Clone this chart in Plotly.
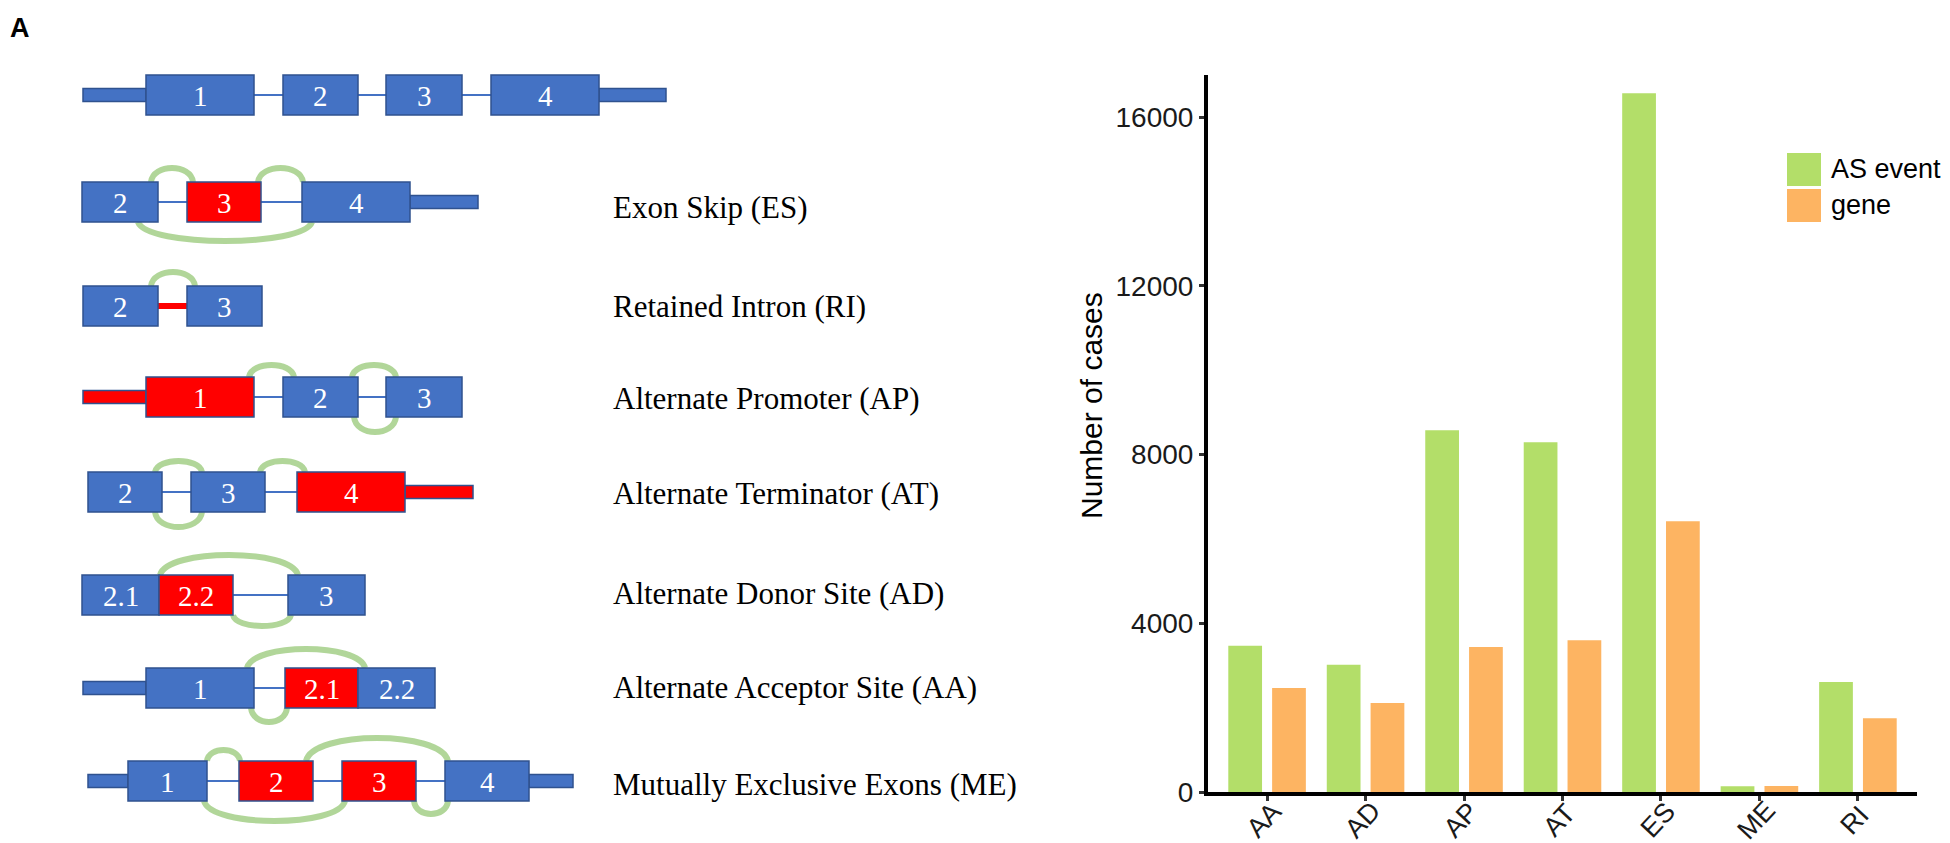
import plotly.graph_objects as go

# ---------------- Panel B data ----------------
categories = ["AA", "AD", "AP", "AT", "ES", "ME", "RI"]
as_event = [3470, 3020, 8580, 8290, 16570, 135, 2610]
gene = [2465, 2110, 3440, 3600, 6420, 140, 1750]
y_tick_values = [0, 4000, 8000, 12000, 16000]
series_names = ["AS event", "gene"]
series_colors = ["#B3DE69", "#FDB462"]
y_title = "Number of cases"

# ---------------- Panel A data (schematic, drawn on a pixel-like axis) ----------------
event_labels = ["Exon Skip (ES)", "Retained Intron (RI)", "Alternate Promoter (AP)",
                "Alternate Terminator (AT)", "Alternate Donor Site (AD)",
                "Alternate Acceptor Site (AA)", "Mutually Exclusive Exons (ME)"]
label_rows_y = [199, 298, 390, 485, 585, 679, 776]
row_y = [87, 194, 298, 389, 484, 587, 680, 773]

BLUE, RED = "#4472C4", "#FF0000"
exon_row = [0, 0, 0, 0, 1, 1, 1, 2, 2, 3, 3, 3, 4, 4, 4, 5, 5, 5, 6, 6, 6, 7, 7, 7, 7]
exon_start = [138, 275, 378, 483, 74, 179, 294, 75, 179, 138, 275, 378, 80, 183, 289, 74, 151, 280, 138, 277, 350, 120, 231, 334, 437]
exon_end = [246, 350, 454, 591, 150, 253, 402, 150, 254, 246, 350, 454, 154, 257, 397, 151, 225, 357, 246, 350, 427, 199, 305, 408, 521]
exon_color = [BLUE, BLUE, BLUE, BLUE, BLUE, RED, BLUE, BLUE, BLUE, RED, BLUE, BLUE, BLUE, BLUE, RED, BLUE, RED, BLUE, BLUE, RED, BLUE, BLUE, RED, RED, BLUE]
exon_text = ["1", "2", "3", "4", "2", "3", "4", "2", "3", "1", "2", "3", "2", "3", "4", "2.1", "2.2", "3", "1", "2.1", "2.2", "1", "2", "3", "4"]

utr_row = [0, 0, 1, 3, 4, 6, 7, 7]
utr_start = [75, 591, 402, 75, 397, 75, 80, 521]
utr_end = [138, 658, 470, 138, 465, 138, 120, 565]
utr_color = [BLUE, BLUE, BLUE, RED, RED, BLUE, BLUE, BLUE]

intron_row = [0, 0, 0, 1, 1, 2, 3, 3, 4, 4, 5, 6, 7, 7, 7]
intron_start = [246, 350, 454, 150, 253, 150, 246, 350, 154, 257, 225, 246, 199, 305, 408]
intron_end = [275, 378, 483, 179, 294, 179, 275, 378, 183, 289, 280, 277, 231, 334, 437]
intron_color = [BLUE, BLUE, BLUE, BLUE, BLUE, RED, BLUE, BLUE, BLUE, BLUE, BLUE, BLUE, BLUE, BLUE, BLUE]

# junction arcs: side +1 = above, -1 = below
arc_row = [1, 1, 1, 2, 3, 3, 3, 4, 4, 4, 5, 5, 6, 6, 7, 7, 7, 7]
arc_start = [143, 250, 130, 143, 241, 344, 346, 147, 252, 147, 152, 225, 239, 243, 199, 298, 196, 406]
arc_end = [185, 295, 304, 187, 286, 388, 388, 194, 297, 194, 290, 283, 357, 279, 232, 440, 337, 440]
arc_side = [1, 1, -1, 1, 1, 1, -1, 1, 1, -1, 1, -1, 1, -1, 1, 1, -1, -1]
arc_height = [14, 14, 19, 14, 12, 12, 15, 11, 11, 15, 20, 11, 19, 14, 11, 23, 20, 13]

EXON_H = 20
UTR_H = 6.5
W, H = 1950, 843
SANS = "Liberation Sans, Arial, sans-serif"
SERIF = "Liberation Serif, Times New Roman, serif"

fig = go.Figure()

for name, vals, col in zip(series_names, [as_event, gene], series_colors):
    fig.add_trace(go.Bar(x=categories, y=vals, name=name, marker=dict(color=col, line=dict(width=0)),
                         showlegend=False, xaxis="x", yaxis="y"))

fig.add_trace(go.Scatter(x=[0, W], y=[0, H], mode="markers", marker=dict(opacity=0),
                         showlegend=False, hoverinfo="skip", xaxis="x2", yaxis="y2"))

shapes = []
annotations = []

for r, a, b, c in zip(intron_row, intron_start, intron_end, intron_color):
    w = 6 if c == RED else 2
    shapes.append(dict(type="line", xref="x2", yref="y2", x0=a, x1=b, y0=row_y[r], y1=row_y[r],
                       line=dict(color=c, width=w)))
for r, a, b, c in zip(utr_row, utr_start, utr_end, utr_color):
    shapes.append(dict(type="rect", xref="x2", yref="y2", x0=a, x1=b, y0=row_y[r] - UTR_H, y1=row_y[r] + UTR_H,
                       fillcolor=c, line=dict(color="#2F528F", width=1.5)))
for r, a, b, c, t in zip(exon_row, exon_start, exon_end, exon_color, exon_text):
    shapes.append(dict(type="rect", xref="x2", yref="y2", x0=a, x1=b, y0=row_y[r] - EXON_H, y1=row_y[r] + EXON_H,
                       fillcolor=c, line=dict(color="#2F528F", width=1.5)))
    annotations.append(dict(xref="x2", yref="y2", x=(a + b) / 2, y=row_y[r] + 1, text=t, showarrow=False,
                            xanchor="center", yanchor="middle",
                            font=dict(family=SERIF, size=29, color="white")))
for r, a, b, s, h in zip(arc_row, arc_start, arc_end, arc_side, arc_height):
    base = row_y[r] - s * EXON_H
    ctrl = base - s * h / 0.75
    path = f"M {a},{base} C {a + (b - a) * 0.05},{ctrl} {b - (b - a) * 0.05},{ctrl} {b},{base}"
    shapes.append(dict(type="path", xref="x2", yref="y2", path=path,
                       line=dict(color="rgba(169,209,142,0.9)", width=6), layer="below"))

for t, y in zip(event_labels, label_rows_y):
    annotations.append(dict(xref="x2", yref="y2", x=603, y=y, text=t, showarrow=False,
                            xanchor="left", yanchor="middle",
                            font=dict(family=SERIF, size=31, color="black")))

annotations.append(dict(xref="x2", yref="y2", x=0, y=3, text="<b>A</b>", showarrow=False,
                        xanchor="left", yanchor="top",
                        font=dict(family=SANS, size=27, color="black")))
annotations.append(dict(xref="x2", yref="y2", x=1062, y=-3, text="<b>B</b>", showarrow=False,
                        xanchor="left", yanchor="top",
                        font=dict(family=SANS, size=30, color="black")))

annotations.append(dict(xref="x2", yref="y2", x=1083, y=398, text=y_title, showarrow=False, textangle=-90,
                        xanchor="center", yanchor="middle",
                        font=dict(family=SANS, size=30, color="black")))

# rotated category labels placed through the category axis
for c in categories:
    annotations.append(dict(xref="x", yref="y2", x=c, y=812, xshift=-3, text=c, showarrow=False,
                            textangle=-47, xanchor="center", yanchor="middle", borderpad=0,
                            font=dict(family=SANS, size=27, color="#1a1a1a")))

leg_x0, leg_x1 = 1779, 1813
leg_tops = [145, 181]
for name, col, top in zip(series_names, series_colors, leg_tops):
    shapes.append(dict(type="rect", xref="x2", yref="y2", x0=leg_x0, x1=leg_x1, y0=top, y1=top + 33,
                       fillcolor=col, line=dict(width=0)))
    annotations.append(dict(xref="x2", yref="y2", x=1821, y=top + 16, text=name, showarrow=False,
                            xanchor="left", yanchor="middle",
                            font=dict(family=SANS, size=27, color="black")))

fig.update_layout(
    width=W, height=H,
    margin=dict(l=0, r=0, t=0, b=0),
    paper_bgcolor="white", plot_bgcolor="rgba(0,0,0,0)",
    barmode="group", bargap=0.11, bargroupgap=0.23,
    shapes=shapes, annotations=annotations,
    xaxis=dict(domain=[1200 / W, 1909 / W], range=[-0.6, 6.6], anchor="y",
               showline=True, linewidth=4, linecolor="black", showgrid=False, zeroline=False,
               ticks="outside", ticklen=5, tickwidth=3, tickcolor="#333333",
               showticklabels=False, automargin=False, fixedrange=True),
    yaxis=dict(domain=[1 - 784 / H, 1 - 67 / H], range=[0, 17000], anchor="x",
               showline=True, linewidth=4, linecolor="black", showgrid=False, zeroline=False,
               ticks="outside", ticklen=5, tickwidth=3, tickcolor="#333333",
               tickvals=y_tick_values, ticktext=[str(v) for v in y_tick_values],
               tickfont=dict(family=SANS, size=28, color="#1a1a1a"),
               automargin=False, fixedrange=True),
    xaxis2=dict(domain=[0, 1], range=[0, W], anchor="y2", visible=False, fixedrange=True),
    yaxis2=dict(domain=[0, 1], range=[H, 0], anchor="x2", visible=False, fixedrange=True),
)

fig.write_html("out.html")
